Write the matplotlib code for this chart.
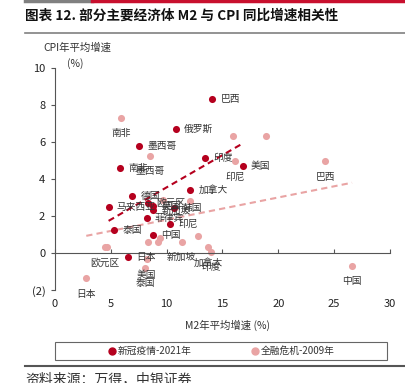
import numpy as np
import matplotlib
matplotlib.use('Agg')
import matplotlib.pyplot as plt
from matplotlib.patches import Rectangle
from matplotlib.lines import Line2D

plt.rcParams['font.family'] = ['Noto Sans CJK SC', 'DejaVu Sans']
plt.rcParams['axes.unicode_minus'] = False

# 新冠疫情-2021年
names_2021 = ['巴西', '俄罗斯', '墨西哥', '南非', '印度', '美国', '加拿大', '德国',
              '马来西亚', '欧元区', '英国', '韩国', '新加坡', '菲律宾', '印尼', '泰国',
              '中国', '日本']
m2_2021 = [14.1, 10.8, 7.5, 5.8, 13.4, 16.8, 12.1, 6.9,
           4.8, 8.35, 8.8, 10.7, 8.8, 8.2, 10.3, 5.3,
           8.8, 6.5]
cpi_2021 = [8.3, 6.7, 5.8, 4.6, 5.15, 4.7, 3.4, 3.1,
            2.5, 2.7, 2.55, 2.45, 2.3, 1.9, 1.55, 1.25,
            0.97, -0.23]

# 全融危机-2009年
names_2009 = ['南非', '墨西哥', '俄罗斯', '土耳其', '印尼', '巴西', '韩国', '澳大利亚',
              '英国', '菲律宾', '马来西亚', '新加坡', '瑞士', '欧元区', '德国', '加拿大',
              '印度', '日本', '美国', '泰国', '中国']
m2_2009 = [5.9, 8.5, 15.9, 18.9, 16.1, 24.2, 9.7, 12.1,
           9.4, 8.3, 9.25, 11.35, 12.8, 4.5, 4.7, 13.7,
           14.0, 2.8, 8.2, 8.1, 26.6]
cpi_2009 = [7.3, 5.25, 6.3, 6.3, 4.95, 4.95, 2.85, 2.8,
            0.8, 0.6, 0.6, 0.6, 0.9, 0.3, 0.3, 0.3,
            0.07, -1.37, -0.35, -0.8, -0.7]
show_2009 = {'南非', '墨西哥', '印尼', '巴西', '新加坡', '欧元区', '加拿大', '印度',
             '日本', '美国', '泰国', '中国'}

red = '#B5001E'
pink = '#E9A4A4'
txt = '#333333'

fig = plt.figure(figsize=(4.06, 3.83), dpi=100)
ax = fig.add_axes([55/406, 1-290/383, 335/406, 222/383])

ax.scatter(m2_2021, cpi_2021, s=26, color=red, zorder=3, linewidths=0)
ax.scatter(m2_2009, cpi_2009, s=26, color=pink, zorder=2, linewidths=0)

# trend lines over each series' range
for xs, ys, c in [(m2_2021, cpi_2021, red), (m2_2009, cpi_2009, pink)]:
    k, b = np.polyfit(xs, ys, 1)
    xx = np.array([min(xs), max(xs)])
    ax.plot(xx, k*xx + b, color=c, lw=1.5, ls=(0, (3, 2)), zorder=1)

for n, x, y in zip(names_2021, m2_2021, cpi_2021):
    ax.annotate(n, (x, y), xytext=(6, 0), textcoords='offset points',
                fontsize=7, color=txt, va='center', ha='left')
for n, x, y in zip(names_2009, m2_2009, cpi_2009):
    if n in show_2009:
        ax.annotate(n, (x, y), xytext=(0, -11), textcoords='offset points',
                    fontsize=7, color=txt, va='center', ha='center')

ax.set_xlim(0, 30)
ax.set_ylim(-2, 10)
ax.set_xticks([0, 5, 10, 15, 20, 25, 30])
ax.set_yticks([-2, 0, 2, 4, 6, 8, 10])
ax.set_yticklabels(['(2)', '0', '2', '4', '6', '8', '10'])
ax.get_yticklabels()[0].set_color('red')

for s in ['top', 'right']:
    ax.spines[s].set_visible(False)
ax.spines['bottom'].set_position(('data', 0))
ax.spines['bottom'].set_color('#555555')
ax.spines['left'].set_color('#555555')
ax.tick_params(axis='x', direction='in', length=3, pad=33, labelsize=8,
               colors='#555555', labelcolor='#222222')
ax.tick_params(axis='y', direction='out', length=3, pad=4, labelsize=8,
               colors='#555555', labelcolor='#222222')

fig.text(43/406, 1-48/383, 'CPI年平均增速', fontsize=7.5, color=txt, va='center')
fig.text(75/406, 1-64/383, '(%)', fontsize=7.5, color=txt, va='center', ha='center')
fig.text(228/406, 1-325/383, 'M2年平均增速 (%)', fontsize=7.5, color=txt,
         va='center', ha='center')

# header
fig.add_artist(Line2D([25/406, 92/406], [1-1/383, 1-1/383], color='#808080', lw=2.5))
fig.add_artist(Line2D([92/406, 1], [1-1/383, 1-1/383], color='#C8102E', lw=2.5))
fig.text(25/406, 1-16/383, '图表 12. 部分主要经济体 M2 与 CPI 同比增速相关性',
         fontsize=9.8, fontweight='bold', color='#111111', va='center')
fig.add_artist(Line2D([25/406, 1], [1-33/383, 1-33/383], color='#808080', lw=1.2))

# legend
fig.add_artist(Rectangle((55/406, 1-360/383), 332/406, 18/383, transform=fig.transFigure,
                         fill=False, edgecolor='#666666', lw=0.8))
h1 = Line2D([], [], ls='none', marker='o', ms=5, color=red)
h2 = Line2D([], [], ls='none', marker='o', ms=5, color=pink)
fig.legend([h1, h2], ['新冠疫情-2021年', '全融危机-2009年'], loc='center',
           bbox_to_anchor=(222/406, 1-351/383), ncol=2, frameon=False, fontsize=7,
           handlelength=0.6, handletextpad=0.3, columnspacing=6.2, labelcolor=txt)

# footer
fig.add_artist(Line2D([25/406, 1], [1-366/383, 1-366/383], color='#555555', lw=1.5))
fig.text(25/406, 1-379/383, '资料来源：万得，中银证券', fontsize=10, color=txt,
         style='italic', va='center')

fig.savefig('out.png', dpi=100)
